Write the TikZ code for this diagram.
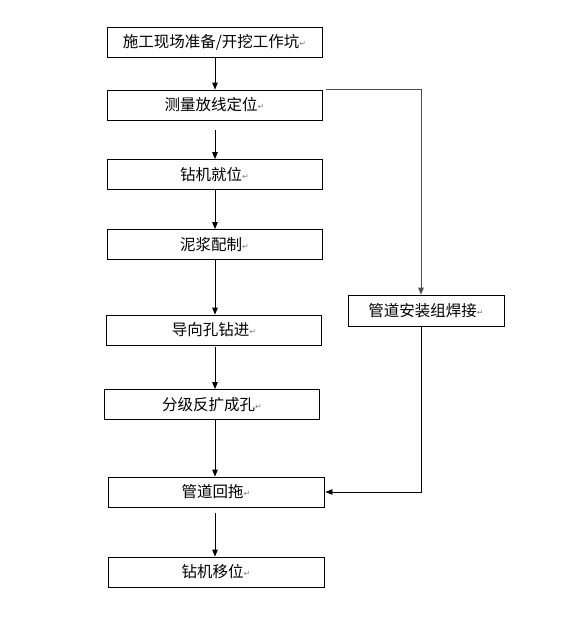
\documentclass[tikz,border=0pt]{standalone}
\usepackage{fontspec}
\newfontfamily\cjk{Noto Sans CJK SC}
\newfontfamily\symfont{DejaVu Sans}
\usetikzlibrary{arrows.meta}
\newcommand{\retmark}{{\color{gray}\symfont\fontsize{8}{8}\selectfont\raisebox{1pt}{↵}}}
\begin{document}
\begin{tikzpicture}[x=1pt,y=-1pt,
  box/.style={draw,line width=0.8pt,minimum width=215pt,minimum height=30pt,inner sep=0pt,font=\cjk\fontsize{15.5}{18}\selectfont},
  arr/.style={-{Triangle[length=7pt,width=5.5pt]},line width=0.8pt}]
\useasboundingbox (0,0) rectangle (564,641);
\node[box] (b1) at (214.5,42) {施工现场准备/开挖工作坑\retmark};
\node[box] (b2) at (214.5,105) {测量放线定位\retmark};
\node[box] (b3) at (214.5,174.5) {钻机就位\retmark};
\node[box] (b4) at (214.5,244.5) {泥浆配制\retmark};
\node[box] (b5) at (214,330) {导向孔钻进\retmark};
\node[box] (b6) at (212,404.5) {分级反扩成孔\retmark};
\node[box,minimum width=216pt] (b7) at (216,492) {管道回拖\retmark};
\node[box,minimum width=216pt] (b8) at (216,572) {钻机移位\retmark};
\node[box,minimum width=156pt,minimum height=31pt] (r) at (426,310.5) {管道安装组焊接\retmark};
\draw[arr] (b1.south -| 215,0) -- (b2.north -| 215,0);
\draw[arr] ([yshift=-10pt]b2.south -| 215,0) -- (b3.north -| 215,0);
\draw[arr] (b3.south -| 215,0) -- (b4.north -| 215,0);
\draw[arr] (b4.south -| 215,0) -- (b5.north -| 215,0);
\draw[arr] ([yshift=-2pt]b5.south -| 215,0) -- (b6.north -| 215,0);
\draw[arr] (b6.south -| 215,0) -- (b7.north -| 215,0);
\draw[arr] ([yshift=-6pt]b7.south -| 215,0) -- (b8.north -| 215,0);
\draw[arr,gray!60!black,line width=1pt] ([xshift=4pt]b2.north east) -| ([xshift=-5pt]r.north);
\draw[arr] ([xshift=-5pt]r.south) |- ([xshift=1pt]b7.east);
\end{tikzpicture}
\end{document}
